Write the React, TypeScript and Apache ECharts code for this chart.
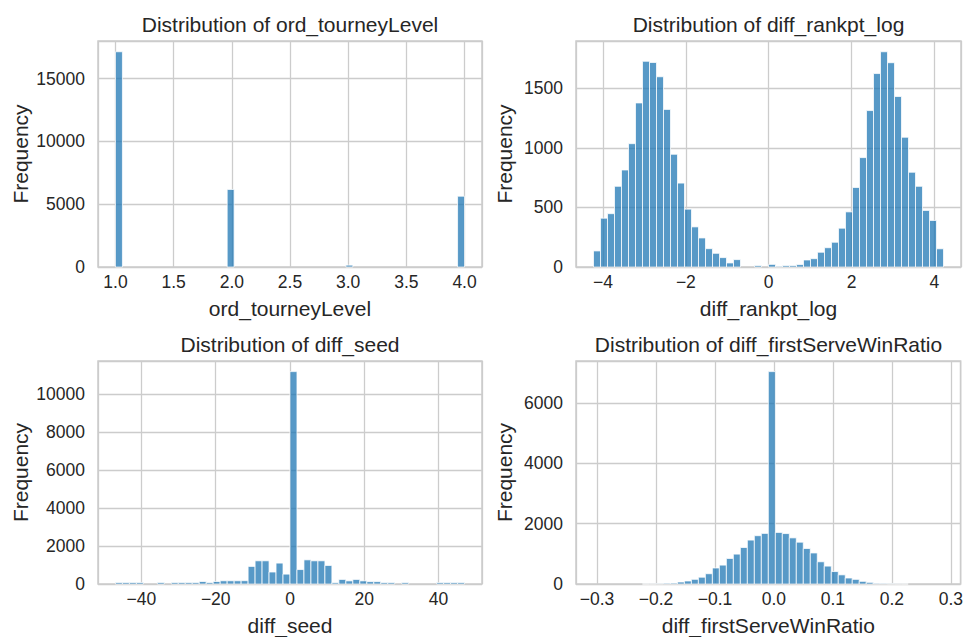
import React, { useEffect, useRef } from "react";
import * as echarts from "echarts";

// ---------- data (50 bins each, counts) ----------
const tourneyRange = [1, 4];
const tourneyCounts = [
  17150, 0, 0, 0, 0, 0, 0, 0, 0, 0,
  0, 0, 0, 0, 0, 0, 6180, 0, 0, 0,
  0, 0, 0, 0, 0, 0, 0, 0, 0, 0,
  0, 0, 0, 150, 0, 0, 0, 0, 0, 0,
  0, 0, 0, 0, 0, 0, 0, 0, 0, 5640,
];

const rankptRange = [-4.23, 4.22];
const rankptCounts = [
  135, 410, 448, 678, 815, 1036, 1378, 1728, 1718, 1598,
  1324, 947, 705, 486, 337, 244, 154, 115, 79, 34,
  62, 0, 0, 12, 0, 22, 6, 12, 12, 20,
  59, 70, 124, 162, 208, 326, 463, 668, 919, 1314,
  1625, 1808, 1716, 1432, 1090, 796, 678, 475, 391, 153,
];

const seedRange = [-47, 47];
const seedCounts = [
  80, 80, 80, 80, 0, 0, 80, 0, 80, 80,
  80, 80, 130, 80, 130, 170, 170, 170, 175, 925,
  1220, 1220, 630, 1100, 520, 11170, 760, 1270, 1220, 1220,
  975, 70, 240, 165, 240, 165, 125, 125, 75, 75,
  0, 75, 0, 0, 0, 0, 75, 75, 75, 75,
];

const serveRange = [-0.306, 0.287];
const serveCounts = [
  0, 0, 0, 0, 0, 0, 0, 2, 4, 10,
  25, 30, 66, 100, 155, 225, 340, 530, 626, 846,
  990, 1209, 1455, 1600, 1676, 7034, 1708, 1670, 1528, 1385,
  1176, 1028, 736, 593, 412, 303, 198, 154, 88, 55,
  22, 20, 8, 4, 2, 0, 0, 0, 0, 0,
];

const titles = [
  "Distribution of ord_tourneyLevel",
  "Distribution of diff_rankpt_log",
  "Distribution of diff_seed",
  "Distribution of diff_firstServeWinRatio",
];
const xNames = ["ord_tourneyLevel", "diff_rankpt_log", "diff_seed", "diff_firstServeWinRatio"];
const xTickSteps = [0.5, 2, 20, 0.1];
const xTickDecimals = [1, 0, 0, 1];
const yTickSteps = [5000, 500, 2000, 2000];
const yLabel = "Frequency";

// ---------- layout / style ----------
const FONT = "'Liberation Sans', Arial, sans-serif";
const TEXT = "#262626";
const GRIDC = "#cccccc";
const rects = [
  { left: 98, top: 41, width: 384, height: 226 },
  { left: 576, top: 41, width: 385, height: 226 },
  { left: 98, top: 361, width: 384, height: 225 },
  { left: 576, top: 361, width: 385, height: 225 },
];
const yNameGaps = [67, 61, 67, 61];

const ranges = [tourneyRange, rankptRange, seedRange, serveRange];
const counts = [tourneyCounts, rankptCounts, seedCounts, serveCounts];

function fmt(v: number, d: number) {
  const s = Math.abs(v).toFixed(d);
  return v < 0 ? "\u2212" + s : s;
}

function buildOption() {
  const grid: any[] = [];
  const xAxis: any[] = [];
  const yAxis: any[] = [];
  const series: any[] = [];
  const graphic: any[] = [];

  for (let i = 0; i < 4; i++) {
    const r = rects[i];
    const [lo, hi] = ranges[i];
    const c = counts[i];
    const span = hi - lo;
    const w = span / c.length;
    const xmin = lo - 0.05 * span;
    const xmax = hi + 0.05 * span;
    const ymax = Math.max(...c) * 1.05;

    grid.push({
      left: r.left,
      top: r.top,
      width: r.width,
      height: r.height,
      show: true,
      borderColor: GRIDC,
      borderWidth: 1.5,
      backgroundColor: "transparent",
      containLabel: false,
    });

    const d = xTickDecimals[i];
    xAxis.push({
      type: "value",
      gridIndex: i,
      min: xmin,
      max: xmax,
      minInterval: xTickSteps[i],
      maxInterval: xTickSteps[i],
      splitNumber: 5,
      axisLine: { show: false },
      axisTick: { show: false },
      splitLine: { show: true, lineStyle: { color: GRIDC, width: 1.3 } },
      axisLabel: {
        show: true,
        interval: 0,
        showMinLabel: false,
        showMaxLabel: false,
        margin: 6,
        fontSize: 17.5,
        fontFamily: FONT,
        color: TEXT,
        formatter: (v: number) => fmt(v, d),
      },
      name: xNames[i],
      nameLocation: "middle",
      nameGap: 31,
      nameTextStyle: { fontSize: 21, fontFamily: FONT, color: TEXT },
    });

    yAxis.push({
      type: "value",
      gridIndex: i,
      min: 0,
      max: ymax,
      minInterval: yTickSteps[i],
      maxInterval: yTickSteps[i],
      splitNumber: 4,
      axisLine: { show: false },
      axisTick: { show: false },
      splitLine: { show: true, lineStyle: { color: GRIDC, width: 1.3 } },
      axisLabel: {
        show: true,
        interval: 0,
        showMinLabel: true,
        showMaxLabel: false,
        margin: 13,
        fontSize: 17.5,
        fontFamily: FONT,
        color: TEXT,
        formatter: (v: number) => String(Math.round(v)),
      },
      name: yLabel,
      nameLocation: "middle",
      nameGap: yNameGaps[i],
      nameTextStyle: { fontSize: 21, fontFamily: FONT, color: TEXT },
    });

    series.push({
      type: "custom",
      xAxisIndex: i,
      yAxisIndex: i,
      silent: true,
      data: c.map((v, k) => [lo + k * w, lo + (k + 1) * w, v]),
      encode: { x: [0, 1], y: 2 },
      renderItem: (params: any, api: any) => {
        const v = api.value(2);
        if (!v) return null;
        const p0 = api.coord([api.value(0), 0]);
        const p1 = api.coord([api.value(1), v]);
        return {
          type: "rect",
          shape: { x: p0[0], y: p1[1], width: p1[0] - p0[0], height: p0[1] - p1[1] },
          style: {
            fill: "rgba(31,119,180,0.75)",
            stroke: "rgba(255,255,255,0.75)",
            lineWidth: 1,
          },
        };
      },
    });

    graphic.push({
      type: "text",
      x: r.left + r.width / 2,
      y: r.top - 27,
      style: {
        text: titles[i],
        fill: TEXT,
        font: `21px ${FONT}`,
        align: "center",
        verticalAlign: "top",
        textAlign: "center",
        textVerticalAlign: "top",
      },
    });
  }

  return {
    animation: false,
    backgroundColor: "#ffffff",
    grid,
    xAxis,
    yAxis,
    series,
    graphic,
  };
}

export default function App() {
  const ref = useRef<HTMLDivElement>(null);
  useEffect(() => {
    if (!ref.current) return;
    const chart = echarts.init(ref.current, undefined, { renderer: "svg" });
    chart.setOption(buildOption() as any);
    return () => chart.dispose();
  }, []);
  return (
    <div
      ref={ref}
      style={{ position: "absolute", left: 0, top: 0, width: 966, height: 637, background: "#fff" }}
    />
  );
}
